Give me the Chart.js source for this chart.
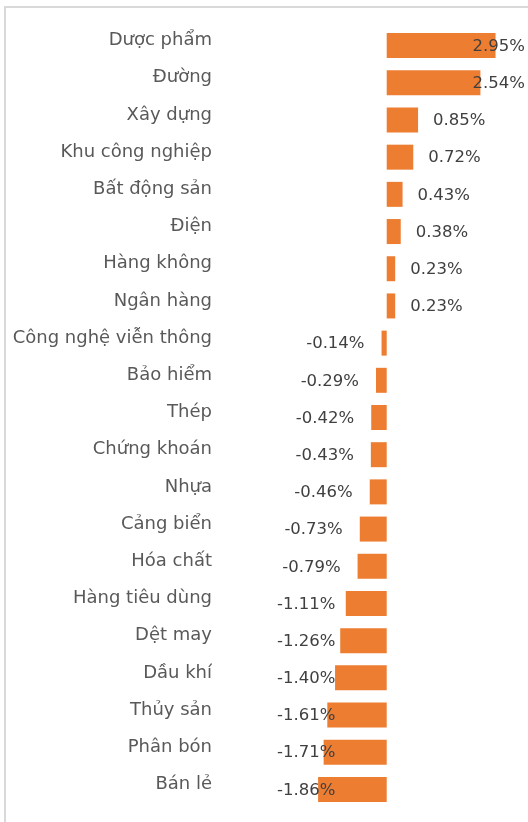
<!DOCTYPE html>
<html>
<head>
<meta charset="utf-8">
<script src="https://cdn.jsdelivr.net/npm/chart.js@4"></script>
<style>
  html, body { margin: 0; padding: 0; background: #ffffff; overflow: hidden; }
  #frame { position: absolute; left: 4px; top: 6px; width: 700px; height: 1000px;
           border-top: 2px solid #d9d9d9; border-left: 2px solid #d9d9d9; box-sizing: border-box; }
  #c { position: absolute; left: 0; top: 0; }
</style>
</head>
<body>
<div id="frame"></div>
<canvas id="c" width="528" height="822"></canvas>
<script>
const categories = [
  "Dược phẩm", "Đường", "Xây dựng", "Khu công nghiệp", "Bất động sản", "Điện",
  "Hàng không", "Ngân hàng", "Công nghệ viễn thông", "Bảo hiểm", "Thép",
  "Chứng khoán", "Nhựa", "Cảng biển", "Hóa chất", "Hàng tiêu dùng", "Dệt may",
  "Dầu khí", "Thủy sản", "Phân bón", "Bán lẻ"
];
const changes = [
  2.95, 2.54, 0.85, 0.72, 0.43, 0.38, 0.23, 0.23, -0.14, -0.29, -0.42,
  -0.43, -0.46, -0.73, -0.79, -1.11, -1.26, -1.40, -1.61, -1.71, -1.86
];
const xMin = -4.736;
const xMax = 3.83;

const FONT = "'DejaVu Sans', Verdana, sans-serif";

const valueLabels = {
  id: 'valueLabels',
  afterDatasetsDraw(chart) {
    const ctx = chart.ctx;
    const meta = chart.getDatasetMeta(0);
    ctx.save();
    ctx.font = "16.5px " + FONT;
    ctx.fillStyle = "#404040";
    ctx.textBaseline = "middle";
    ctx.textAlign = "left";
    meta.data.forEach((bar, i) => {
      const v = changes[i];
      const txt = v.toFixed(2) + "%";
      const w = ctx.measureText(txt).width;
      let left;
      if (v >= 0) {
        left = bar.x + 15;
        if (left + w > 525) left = 525 - w;
      } else {
        let right = bar.x - 17;
        if (right - w < 277) right = 277 + w;
        left = right - w;
      }
      ctx.fillText(txt, left, bar.y + 1);
    });
    ctx.restore();
  }
};

new Chart(document.getElementById('c'), {
  type: 'bar',
  data: {
    labels: categories,
    datasets: [{
      data: changes,
      backgroundColor: '#ED7D31',
      borderWidth: 0,
      barPercentage: 0.672,
      categoryPercentage: 1.0
    }]
  },
  options: {
    indexAxis: 'y',
    responsive: false,
    animation: false,
    devicePixelRatio: 1,
    layout: { padding: { top: 27, bottom: 14, left: 0, right: 0 } },
    plugins: { legend: { display: false }, title: { display: false }, tooltip: { enabled: false } },
    scales: {
      x: {
        display: false,
        min: xMin,
        max: xMax
      },
      y: {
        grid: { display: false, drawTicks: false },
        border: { display: false },
        ticks: {
          padding: 0,
          labelOffset: -5,
          color: '#595959',
          font: { family: FONT, size: 18 },
          autoSkip: false
        },
        afterFit(scale) { scale.width = 212; }
      }
    }
  },
  plugins: [valueLabels]
});
</script>
</body>
</html>
